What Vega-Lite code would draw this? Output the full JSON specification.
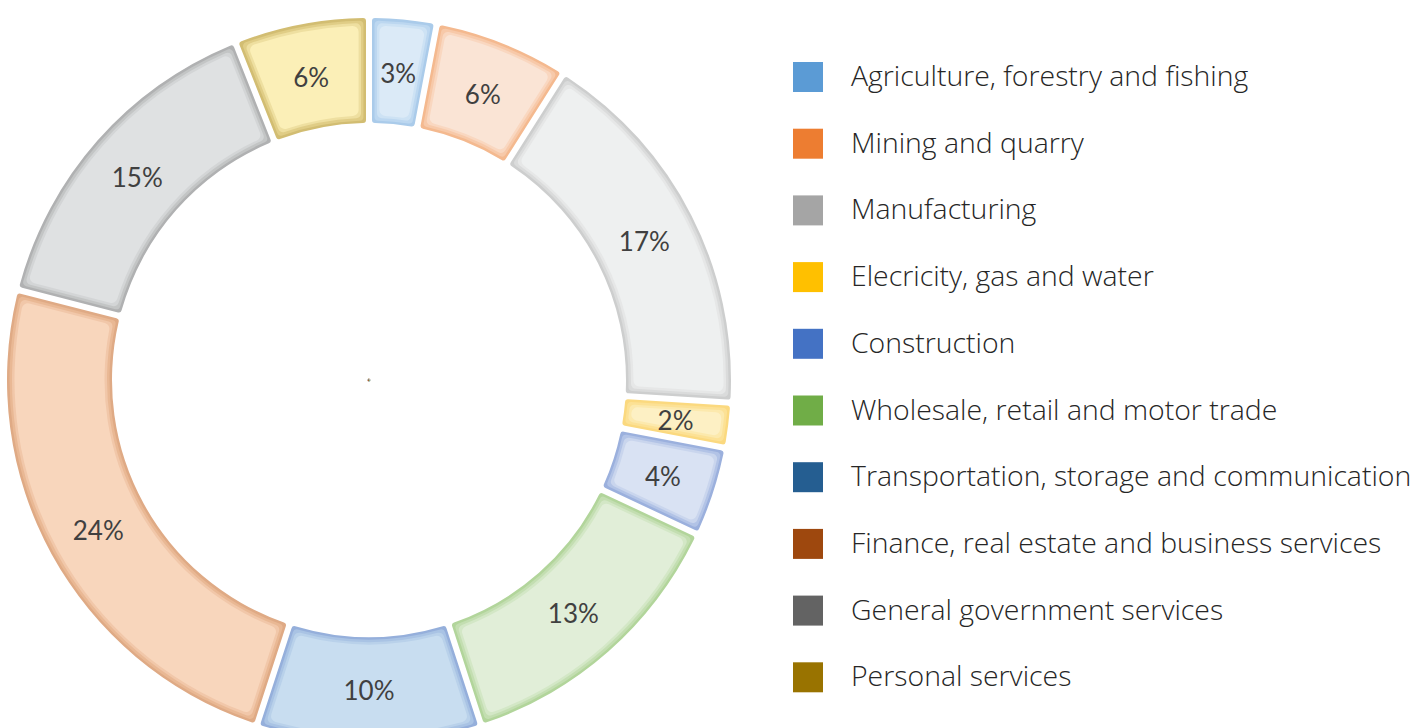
{
  "$schema": "https://vega.github.io/schema/vega-lite/v6.json",
  "width": 738,
  "height": 760,
  "padding": 0,
  "background": "white",
  "view": {"stroke": null},
  "config": {"font": "Open Sans"},
  "data": {
    "values": [
      {"idx": 1, "sector": "Agriculture, forestry and fishing", "share": 0.03},
      {"idx": 2, "sector": "Mining and quarry", "share": 0.06},
      {"idx": 3, "sector": "Manufacturing", "share": 0.17},
      {"idx": 4, "sector": "Elecricity, gas and water", "share": 0.02},
      {"idx": 5, "sector": "Construction", "share": 0.04},
      {"idx": 6, "sector": "Wholesale, retail and motor trade", "share": 0.13},
      {"idx": 7, "sector": "Transportation, storage and communication", "share": 0.10},
      {"idx": 8, "sector": "Finance, real estate and business services", "share": 0.24},
      {"idx": 9, "sector": "General government services", "share": 0.15},
      {"idx": 10, "sector": "Personal services", "share": 0.06}
    ]
  },
  "encoding": {
    "theta": {"field": "share", "type": "quantitative", "stack": true},
    "order": {"field": "idx", "type": "quantitative"}
  },
  "layer": [
    {
      "mark": {"type": "arc", "outerRadius": 1.5, "innerRadius": 0},
      "encoding": {
        "color": {
          "field": "sector",
          "type": "nominal",
          "sort": null,
          "scale": {
            "domain": ["Agriculture, forestry and fishing", "Mining and quarry", "Manufacturing", "Elecricity, gas and water", "Construction", "Wholesale, retail and motor trade", "Transportation, storage and communication", "Finance, real estate and business services", "General government services", "Personal services"],
            "range": ["#5b9bd5", "#ed7d31", "#a5a5a5", "#ffc000", "#4472c4", "#70ad47", "#255e91", "#9e480e", "#636363", "#997300"]
          },
          "legend": {
            "title": null,
            "orient": "none",
            "legendX": 793,
            "legendY": 62,
            "padding": 0,
            "symbolType": "square",
            "symbolSize": 900,
            "symbolStrokeWidth": 0,
            "symbolOpacity": 1,
            "labelFont": "Open Sans",
            "labelFontWeight": 300,
            "labelFontSize": 28.4,
            "labelColor": "#262626",
            "labelOffset": 28,
            "labelLimit": 700,
            "rowPadding": 36.7,
            "direction": "vertical"
          }
        }
      }
    },
    {
      "mark": {"type": "arc", "outerRadius": 362, "innerRadius": 257, "padAngle": 0.0135, "cornerRadius": 3},
      "encoding": {
        "fill": {
          "field": "sector",
          "type": "nominal",
          "sort": null,
          "legend": null,
          "scale": {
            "domain": ["Agriculture, forestry and fishing", "Mining and quarry", "Manufacturing", "Elecricity, gas and water", "Construction", "Wholesale, retail and motor trade", "Transportation, storage and communication", "Finance, real estate and business services", "General government services", "Personal services"],
            "range": ["#aacbea", "#f4b98f", "#cdcece", "#fbd97f", "#9bb0dd", "#b2d59b", "#95afdb", "#dfaa85", "#b0b1b2", "#d2bd72"]
          }
        }
      }
    },
    {
      "mark": {"type": "arc", "outerRadius": 359.5, "innerRadius": 259.5, "padAngle": 0.025, "cornerRadius": 4},
      "encoding": {
        "fill": {
          "field": "sector",
          "type": "nominal",
          "sort": null,
          "legend": null,
          "scale": {
            "domain": ["Agriculture, forestry and fishing", "Mining and quarry", "Manufacturing", "Elecricity, gas and water", "Construction", "Wholesale, retail and motor trade", "Transportation, storage and communication", "Finance, real estate and business services", "General government services", "Personal services"],
            "range": ["#bcd7f0", "#f7c9a9", "#dadbdb", "#fce195", "#b2c3e6", "#c3deb1", "#a9c3e4", "#e9b894", "#c3c5c5", "#e0cd86"]
          }
        }
      }
    },
    {
      "mark": {"type": "arc", "outerRadius": 357, "innerRadius": 262, "padAngle": 0.036, "cornerRadius": 5},
      "encoding": {
        "fill": {
          "field": "sector",
          "type": "nominal",
          "sort": null,
          "legend": null,
          "scale": {
            "domain": ["Agriculture, forestry and fishing", "Mining and quarry", "Manufacturing", "Elecricity, gas and water", "Construction", "Wholesale, retail and motor trade", "Transportation, storage and communication", "Finance, real estate and business services", "General government services", "Personal services"],
            "range": ["#cde2f4", "#f9d7c0", "#e6e7e7", "#fce9ad", "#c9d5ed", "#d3e7c6", "#b9d1ea", "#f1c7a9", "#d3d5d6", "#eedfa0"]
          }
        }
      }
    },
    {
      "mark": {"type": "arc", "outerRadius": 354.5, "innerRadius": 264.5, "padAngle": 0.047, "cornerRadius": 6},
      "encoding": {
        "fill": {
          "field": "sector",
          "type": "nominal",
          "sort": null,
          "legend": null,
          "scale": {
            "domain": ["Agriculture, forestry and fishing", "Mining and quarry", "Manufacturing", "Elecricity, gas and water", "Construction", "Wholesale, retail and motor trade", "Transportation, storage and communication", "Finance, real estate and business services", "General government services", "Personal services"],
            "range": ["#dbeaf7", "#fae4d5", "#eef0f0", "#fdf0c4", "#d9e2f3", "#e1eed8", "#c8ddf0", "#f8d6bc", "#dfe1e2", "#fbefb7"]
          }
        }
      }
    },
    {
      "mark": {"type": "text", "radius": 309, "dy": 3, "font": "Lato", "fontSize": 26, "fill": "#404040"},
      "encoding": {
        "text": {"field": "share", "type": "quantitative", "format": ".0%"}
      }
    }
  ],
  "resolve": {"scale": {"fill": "independent"}}
}
